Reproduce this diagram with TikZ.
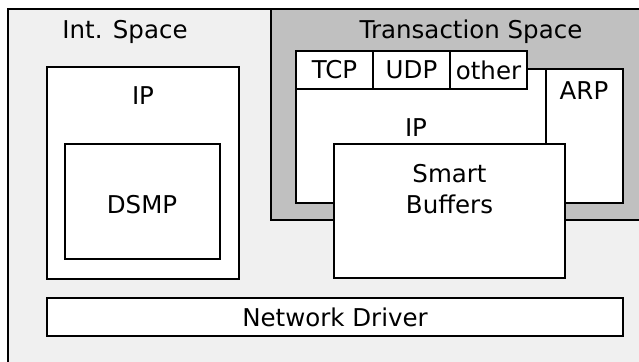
\documentclass[tikz,border=0pt]{standalone}
\usepackage{fontspec}
\setmainfont{DejaVu Sans}
\usetikzlibrary{positioning}
\definecolor{backgray}{RGB}{240,240,240}
\definecolor{spacegray}{RGB}{192,192,192}

\begin{document}
\begin{tikzpicture}[x=1pt, y=-1pt, line width=1.1pt, font=\fontsize{24.5}{31}\selectfont,
    box/.style={rectangle, draw, fill=white, inner sep=0pt, outer sep=0pt},
    cell/.style={box, minimum width=77pt, minimum height=38pt}]
    \clip (0,0) rectangle (639,361);
    \node [box, fill=backgray, anchor=north west, minimum width=700pt, minimum height=400pt] (frame) at (8,9) {};
    \node [anchor=base] (intlabel) at (125,39) {Int. Space};

    \node [box, anchor=north west, minimum width=192pt, minimum height=212pt] (ipbox) at (47,67) {};
    \node [anchor=base] (iplabel) at (143,104) {IP};
    \node [box, anchor=north west, minimum width=155pt, minimum height=115pt] (dsmp) at (65,144) {};
    \node [anchor=base] (dsmplabel) at (142,213) {DSMP};

    \node [box, fill=spacegray, anchor=north west, minimum width=400pt, minimum height=211pt] (transspace) at (271,9) {};
    \node [anchor=base] (translabel) at (471,39) {Transaction Space};

    \node [box, anchor=north west, minimum width=250pt, minimum height=134pt] (ipstack) at (296,69) {};
    \node [anchor=base] (stacklabel) at (416,136) {IP};
    \node [cell, anchor=north west] (tcp) at (296,51) {TCP};
    \node [cell, right=0pt of tcp] (udp) {UDP};
    \node [cell, right=0pt of udp] (other) {other};
    \node [box, anchor=north west, minimum width=77pt, minimum height=134pt] (arp) at (546,69) {};
    \node [anchor=base] (arplabel) at (584,99) {ARP};

    \node [box, anchor=north west, minimum width=231pt, minimum height=134pt] (buffers) at (334,144) {};
    \node [anchor=base, align=center] (bufferslabel) at (449.5,213) {Smart\\Buffers};

    \node [box, anchor=north west, minimum width=576pt, minimum height=38pt] (driver) at (47,298) {Network Driver};
\end{tikzpicture}
\end{document}
